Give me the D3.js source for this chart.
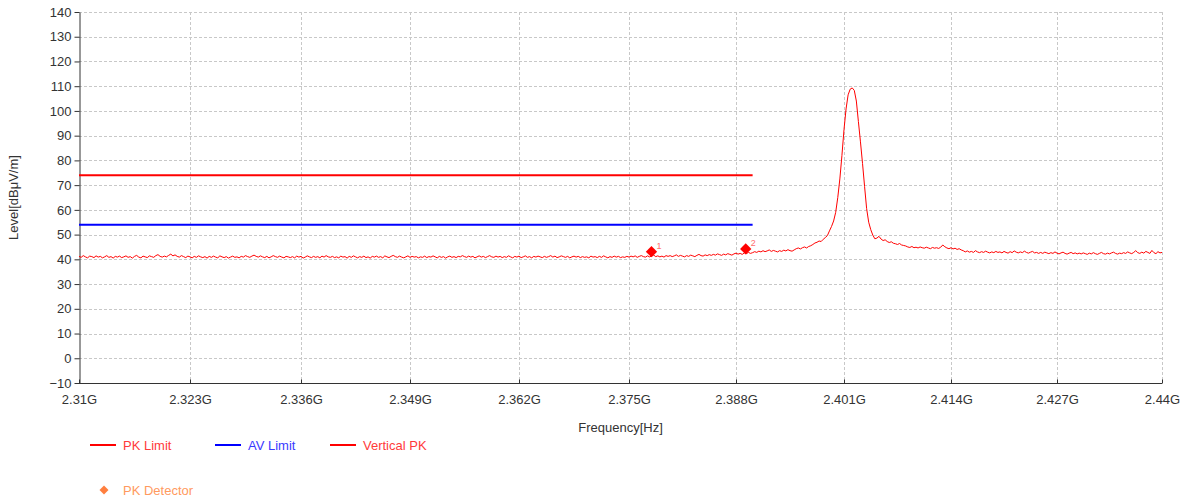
<!DOCTYPE html>
<html>
<head>
<meta charset="utf-8">
<script src="https://cdn.jsdelivr.net/npm/d3@7"></script>
<style>
  body { margin: 0; background: #fff; }
  svg { display: block; font-family: "Liberation Sans", Arial, sans-serif; }
</style>
</head>
<body>
<div id="content"></div>
<script>
// sweep settings (trace points are evenly spaced from start to stop)
var sweepStart = 2.31, sweepStop = 2.44;

// measured level of the vertical PK trace, dBuV/m
var traceLevels = [
  41.2,40.8,41.5,41.0,40.6,41.3,41.1,40.7,41.4,40.9,41.2,40.6,41.0,41.5,40.8,41.1,40.5,41.2,40.9,41.3,
  40.7,41.0,41.4,40.8,41.1,40.5,41.2,41.6,40.9,40.6,41.3,41.0,40.7,41.4,41.1,40.8,41.5,41.9,41.2,40.9,
  41.3,41.0,41.6,42.1,41.4,41.8,41.2,40.9,41.5,41.1,40.7,41.3,41.0,40.6,41.2,40.8,41.4,41.0,40.7,41.1,
  40.5,41.2,40.8,41.3,40.9,40.6,41.4,41.0,40.7,41.1,40.5,40.9,41.3,40.8,41.0,40.6,41.2,40.9,41.5,41.1,
  40.8,41.3,41.7,41.2,40.9,41.4,41.0,40.7,41.2,40.6,41.0,41.5,41.1,40.8,41.3,40.9,40.6,41.2,41.0,40.7,
  41.1,40.6,41.3,40.9,41.2,40.5,40.9,41.4,41.0,40.7,41.2,40.8,41.1,40.6,41.3,40.9,41.5,41.0,40.8,41.2,
  40.7,41.0,40.6,41.3,40.9,41.1,40.5,41.2,40.8,41.4,41.0,40.6,41.1,40.8,41.3,40.7,41.0,40.5,41.2,40.9,
  41.3,40.8,41.1,40.6,41.4,41.0,40.7,41.2,41.6,41.1,40.8,41.3,40.9,40.6,41.0,41.4,40.8,41.2,40.9,41.1,
  40.6,41.0,40.8,41.3,40.7,41.1,40.9,41.4,41.0,40.6,41.2,40.8,41.1,40.5,41.0,41.3,40.8,41.1,40.7,41.2,
  41.0,41.5,41.1,40.8,41.3,40.9,41.2,40.6,41.0,41.4,40.9,41.2,40.7,41.1,41.5,41.0,40.8,41.3,40.9,41.2,
  40.7,41.1,40.8,41.4,41.0,40.6,41.2,40.9,41.3,40.7,41.0,41.4,40.8,41.1,40.6,41.2,40.9,41.3,41.0,40.7,
  41.2,40.8,41.1,41.5,40.9,41.3,40.7,41.0,41.4,41.1,40.8,41.2,40.6,41.0,41.3,40.9,41.2,40.7,41.1,40.8,
  41.0,40.6,41.3,40.9,41.1,40.7,41.2,40.8,41.4,41.0,40.6,41.1,40.8,41.3,40.9,41.2,40.7,41.0,40.8,41.2,
  40.9,41.3,41.0,41.4,40.8,41.2,41.5,41.1,40.9,41.4,41.0,41.3,41.7,41.1,41.4,41.0,41.3,40.9,41.5,41.2,
  41.5,41.1,41.4,41.8,41.2,41.6,41.3,41.0,41.5,41.2,41.7,41.4,41.1,41.6,42.0,41.5,41.3,41.8,41.5,41.9,
  41.6,42.0,41.7,42.2,41.9,41.6,42.1,41.8,42.3,42.0,41.7,42.2,42.5,42.1,42.4,42.0,42.6,42.3,42.8,42.4,
  42.7,43.1,42.8,43.3,43.0,43.5,43.1,43.4,43.8,43.2,43.6,43.3,43.0,43.5,43.2,43.7,43.4,43.9,43.5,43.3,
  43.8,44.3,44.6,44.2,44.7,45.0,44.6,45.2,45.5,46.0,46.6,46.9,47.4,47.2,48.1,48.8,49.6,51.5,53.3,55.5,
  59.0,65.0,72.5,82.0,92.5,100.8,106.5,108.8,109.3,108.3,104.0,95.7,87.5,78.8,69.5,60.5,55.0,52.0,49.8,48.3,
  48.6,49.3,48.2,47.6,47.9,47.2,46.8,47.1,46.5,46.3,46.0,46.4,45.8,45.6,45.4,45.0,44.8,45.2,44.7,44.9,
  44.6,45.0,44.7,44.5,44.9,44.6,44.3,44.8,44.5,44.7,44.4,44.9,45.8,45.1,44.6,44.3,44.7,44.2,44.5,44.0,
  44.3,43.8,43.5,43.0,43.4,42.9,43.2,42.8,43.5,43.0,42.7,43.1,42.8,43.3,42.9,42.6,43.0,42.7,43.2,42.8,
  43.0,42.6,43.2,42.8,42.5,43.1,42.7,43.4,42.9,42.6,43.0,42.7,43.3,42.8,42.5,42.9,43.2,42.6,42.8,42.4,
  42.8,42.4,42.9,42.6,42.3,42.7,42.4,43.0,42.5,42.2,42.6,42.9,42.4,42.1,42.5,42.8,42.3,42.6,42.2,42.5,
  42.2,42.6,42.3,42.0,42.5,42.2,42.7,42.3,42.0,42.4,42.8,42.3,42.1,42.5,42.2,42.6,42.9,42.4,42.1,42.5,
  42.3,42.7,42.4,43.0,42.6,42.3,42.8,43.5,42.7,42.4,42.9,42.5,43.2,42.8,42.4,43.6,42.7,42.3,43.1,42.6,
  42.8
];

// limit lines
var limitFreqs = [2.31, 2.39];
var pkLimitLevels = [74, 74];
var avLimitLevels = [54, 54];

// PK detector markers
var markerFreqs = [2.37773, 2.38917];
var markerLevels = [43.1, 44.2];
var markerLabels = ["1", "2"];

// axis ticks
var xTickValues = [2.31, 2.323, 2.336, 2.349, 2.362, 2.375, 2.388, 2.401, 2.414, 2.427, 2.44];
var xTickLabels = ["2.31G", "2.323G", "2.336G", "2.349G", "2.362G", "2.375G", "2.388G", "2.401G", "2.414G", "2.427G", "2.44G"];
var yTickValues = [-10, 0, 10, 20, 30, 40, 50, 60, 70, 80, 90, 100, 110, 120, 130, 140];

var legendNames = ["PK Limit", "AV Limit", "Vertical PK"];
var legendColors = ["#ff0000", "#0000ff", "#ff0000"];

// layout
var W = 1189, H = 498;
var plotLeft = 79, plotRight = 1162, plotTop = 12, plotBottom = 383;
// pixel columns of the frequency grid lines (the original axis is not quite even)
var xGridPx = [79, 190, 301, 410, 519, 629, 736, 844, 951, 1057, 1162];

var svg = d3.select("#content").append("svg").attr("width", W).attr("height", H);

var x = d3.scaleLinear().domain(xTickValues).range(xGridPx);
var y = d3.scaleLinear().domain([-10, 140]).range([plotBottom, plotTop]);

// grid
var grid = svg.append("g").attr("class", "grid");
grid.selectAll("line.h").data(yTickValues.filter(function(d) { return d > -10; }))
  .enter().append("line")
  .attr("x1", plotLeft).attr("x2", plotRight)
  .attr("y1", function(d) { return Math.round(y(d)) + 0.5; }).attr("y2", function(d) { return Math.round(y(d)) + 0.5; })
  .attr("stroke", "#c8c8c8").attr("stroke-dasharray", "3,2");
grid.selectAll("line.v").data(xTickValues.slice(1))
  .enter().append("line")
  .attr("x1", function(d) { return Math.round(x(d)) + 0.5; }).attr("x2", function(d) { return Math.round(x(d)) + 0.5; })
  .attr("y1", plotTop).attr("y2", plotBottom)
  .attr("stroke", "#c8c8c8").attr("stroke-dasharray", "3,2");

// axes
var yAxis = d3.axisLeft(y).tickValues(yTickValues).tickSizeInner(5).tickSizeOuter(0).tickPadding(3);
var gy = svg.append("g").attr("transform", "translate(" + (plotLeft + 0.5) + ",0)").call(yAxis);

var xAxis = d3.axisBottom(x).tickValues(xTickValues)
  .tickFormat(function(d, i) { return xTickLabels[i]; })
  .tickSizeInner(-4).tickSizeOuter(0).tickPadding(11);
var gx = svg.append("g").attr("transform", "translate(0," + (plotBottom + 0.5) + ")").call(xAxis);
gx.select(".domain").attr("d", "M" + plotLeft + ",0H" + plotRight);

[gx, gy].forEach(function(g) {
  g.select(".domain").attr("stroke", "#333");
  g.selectAll(".tick line").attr("stroke", "#333");
  g.selectAll(".tick text").attr("fill", "#333").style("font-size", "13px").style("font-family", "Liberation Sans, Arial, sans-serif");
});

svg.append("text").attr("transform", "translate(18," + ((plotTop + plotBottom) / 2) + ") rotate(-90)")
  .attr("text-anchor", "middle").attr("fill", "#333").style("font-size", "13px")
  .text("Level[dBμV/m]");
svg.append("text").attr("x", (plotLeft + plotRight) / 2).attr("y", 432)
  .attr("text-anchor", "middle").attr("fill", "#333").style("font-size", "13px")
  .text("Frequency[Hz]");

// limit lines
var limitLine = d3.line().x(function(d) { return x(d[0]); }).y(function(d) { return y(d[1]); });
svg.append("path").datum(d3.zip(limitFreqs, pkLimitLevels))
  .attr("d", limitLine).attr("fill", "none").attr("stroke", "#ff0000").attr("stroke-width", 2);
svg.append("path").datum(d3.zip(limitFreqs, avLimitLevels))
  .attr("d", limitLine).attr("fill", "none").attr("stroke", "#0000ff").attr("stroke-width", 2);

// trace
var step = (sweepStop - sweepStart) / (traceLevels.length - 1);
var traceLine = d3.line()
  .x(function(d, i) { return x(sweepStart + i * step); })
  .y(function(d) { return y(d); });
svg.append("path").datum(traceLevels)
  .attr("d", traceLine).attr("fill", "none").attr("stroke", "#ff0000").attr("stroke-width", 1);

// markers
var diamond = d3.symbol().type(d3.symbolSquare).size(64);
var markers = svg.append("g").selectAll("g").data(markerFreqs).enter().append("g")
  .attr("transform", function(d, i) { return "translate(" + x(d) + "," + y(markerLevels[i]) + ")"; });
markers.append("path").attr("d", diamond).attr("transform", "rotate(45)").attr("fill", "#ff0000");
markers.append("text").attr("x", 5).attr("y", -3).attr("fill", "#ff7070")
  .style("font-size", "9px").text(function(d, i) { return markerLabels[i]; });

// legend
var legendX = [90, 215, 330];
var lg = svg.append("g").selectAll("g").data(legendNames).enter().append("g")
  .attr("transform", function(d, i) { return "translate(" + legendX[i] + ",445)"; });
lg.append("line").attr("x1", 0).attr("x2", 26).attr("y1", 0).attr("y2", 0)
  .attr("stroke", function(d, i) { return legendColors[i]; }).attr("stroke-width", 2);
lg.append("text").attr("x", 33).attr("y", 4.5).style("font-size", "13px")
  .attr("fill", function(d, i) { return i === 1 ? "#3a3aff" : "#ff3a3a"; })
  .text(function(d) { return d; });

var pd = svg.append("g").attr("transform", "translate(104,490)");
pd.append("path").attr("d", d3.symbol().type(d3.symbolSquare).size(40)).attr("transform", "rotate(45)").attr("fill", "#ff7f3f");
pd.append("text").attr("x", 19).attr("y", 4.5).style("font-size", "13px").attr("fill", "#ff9a60").text("PK Detector");
</script>
</body>
</html>
